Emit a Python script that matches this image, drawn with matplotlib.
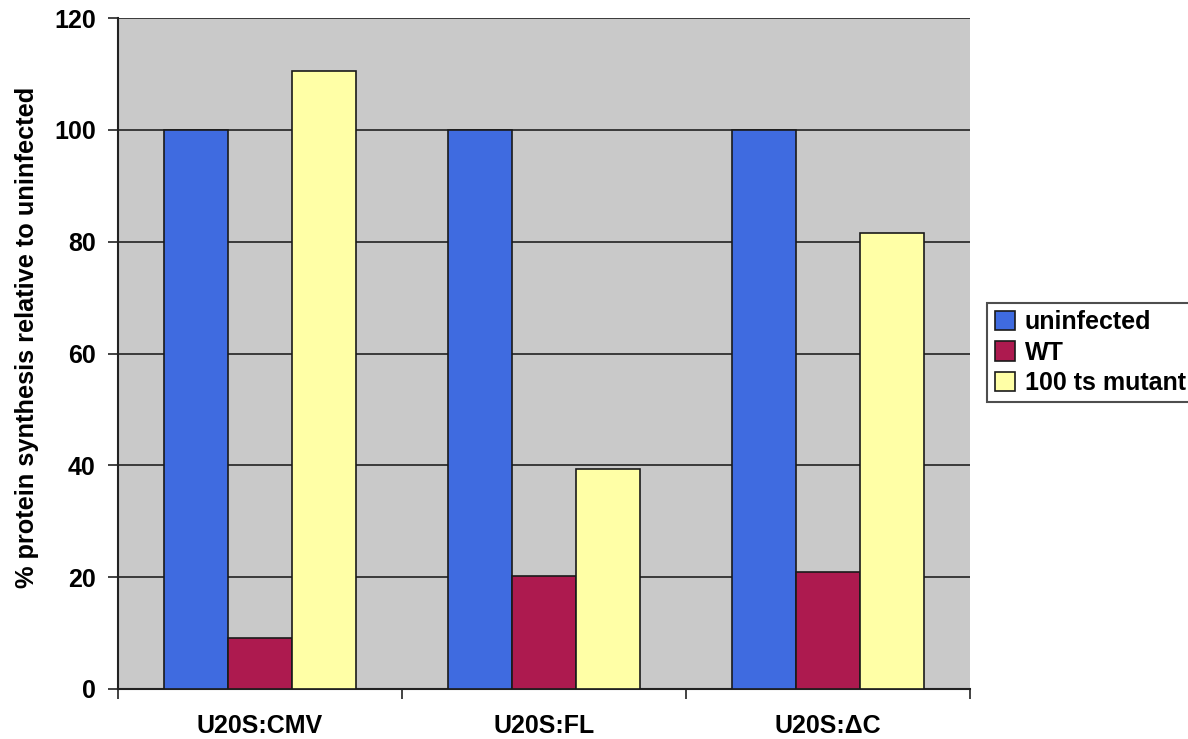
import numpy as np
import matplotlib.pyplot as plt

# dados
categories = ["U20S:CMV", "U20S:FL", "U20S:\u0394C"]
series_names = ["uninfected", "WT", "100 ts mutant"]
uninfected = [100, 100, 100]
wt = [9.1, 20.2, 20.9]
ts_mutant = [110.5, 39.4, 81.6]
yticks = [0, 20, 40, 60, 80, 100, 120]

colors = ["#3f6be0", "#ad1a4f", "#ffffa6"]

plt.rcParams['font.family'] = ['Liberation Sans', 'DejaVu Sans']
plt.rcParams['font.weight'] = 'bold'

fig = plt.figure(figsize=(11.88, 7.39), dpi=100)
ax = fig.add_axes([0.0993, 0.0677, 0.7172, 0.9079])
ax.set_facecolor("#c9c9c9")

x = np.arange(len(categories))
w = 0.225
for i, (vals, name) in enumerate(zip([uninfected, wt, ts_mutant], series_names)):
    ax.bar(x + (i - 1) * w, vals, width=w, color=colors[i], edgecolor="#1a1a1a",
           linewidth=1.2, label=name, zorder=3)

ax.set_ylim(0, 120)
ax.set_xlim(-0.5, 2.5)
ax.set_yticks(yticks)
ax.set_yticklabels([str(t) for t in yticks], fontsize=18, fontweight='bold')
ax.yaxis.grid(True, color="#222222", linewidth=1.2, zorder=1)
ax.set_axisbelow(True)

# rótulos das categorias no centro, marcas nas divisões
ax.set_xticks(x)
ax.set_xticklabels(categories, fontsize=18, fontweight='bold')
ax.tick_params(axis='x', which='major', length=0, pad=18)
ax.set_xticks([-0.5, 0.5, 1.5, 2.5], minor=True)
ax.tick_params(axis='x', which='minor', length=7, width=1.2, color="#222222")
ax.tick_params(axis='y', length=7, width=1.2, color="#222222", pad=9)

for s in ['top', 'right']:
    ax.spines[s].set_visible(False)
ax.spines['left'].set_linewidth(1.5)
ax.spines['bottom'].set_linewidth(1.5)
ax.spines['left'].set_color("#222222")
ax.spines['bottom'].set_color("#222222")

ax.set_ylabel("% protein synthesis relative to uninfected", fontsize=18.3,
              fontweight='bold')
ax.yaxis.set_label_coords(-0.093, 0.524)

leg = fig.legend(loc='upper left', bbox_to_anchor=(0.831, 0.59), fontsize=18,
                 frameon=True, fancybox=False, edgecolor="#222222",
                 handlelength=0.8, handleheight=0.8, handletextpad=0.4,
                 labelspacing=0.25, borderpad=0.3, borderaxespad=0)
leg.get_frame().set_linewidth(1.5)
for t in leg.get_texts():
    t.set_fontweight('bold')

fig.savefig("out.png", dpi=100)
